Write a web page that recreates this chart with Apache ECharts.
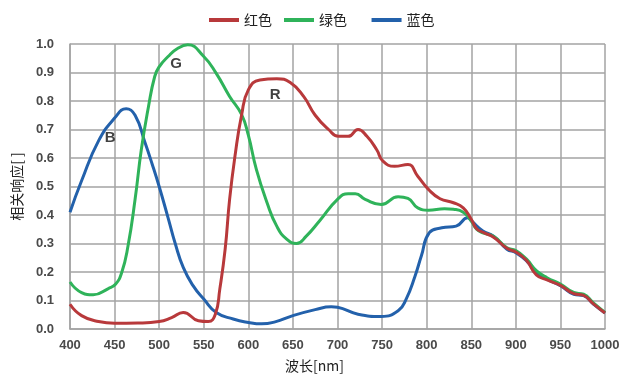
<!DOCTYPE html>
<html>
<head>
<meta charset="utf-8">
<script src="https://cdn.jsdelivr.net/npm/echarts@6/dist/echarts.min.js"></script>
<style>
html,body{margin:0;padding:0;background:#fff;}
#chart{width:640px;height:378px;}
</style>
</head>
<body>
<div id="chart"></div>
<script>
// Data (wavelength nm, relative response)
const seriesNames = ['红色', '绿色', '蓝色'];

const redNm  = [400,413,432,450,476,500,514,527,544,555,563,568,574,579,585,592.5,600,613,632,647,662,675,690,701,712,723,733,744,751,764,779,790,802,815,830,841,850,856,864,875,890,900,912,923,935,950,965,976,987,1000];
const redVal = [0.087,0.047,0.026,0.02,0.021,0.026,0.04,0.058,0.029,0.026,0.052,0.14,0.28,0.455,0.606,0.752,0.839,0.874,0.878,0.865,0.816,0.75,0.70,0.676,0.676,0.70,0.676,0.629,0.589,0.571,0.577,0.536,0.49,0.457,0.443,0.425,0.385,0.352,0.338,0.322,0.283,0.27,0.24,0.19,0.172,0.153,0.124,0.118,0.088,0.056];

const greenNm  = [400,413,426,443,451,458,465,473,480,488,495,500,510,521,532,550,564,579,592.5,600,609,621,632,643,654,665,680,700,712,720,731,749,768,779,790,802,820,830,841,850,856,864,875,890,900,912,923,935,950,965,976,987,1000];
const greenVal = [0.165,0.128,0.12,0.142,0.157,0.198,0.29,0.455,0.63,0.78,0.886,0.92,0.956,0.985,0.997,0.956,0.897,0.816,0.752,0.68,0.56,0.443,0.36,0.315,0.30,0.326,0.38,0.455,0.475,0.475,0.455,0.437,0.464,0.458,0.425,0.417,0.422,0.42,0.41,0.379,0.35,0.336,0.325,0.285,0.275,0.245,0.205,0.18,0.158,0.128,0.122,0.092,0.058];

const blueNm  = [400,413,432,450,463,473,484,492,500,510,518,527,538,550,564,583,600,615,630,650,675,693,700,723,749,768,777,787,794,803,817,833,846,850,863,875,890,900,912,923,935,950,965,976,987,1000];
const blueVal = [0.41,0.52,0.66,0.74,0.773,0.75,0.655,0.58,0.50,0.39,0.30,0.216,0.152,0.105,0.058,0.035,0.023,0.018,0.025,0.047,0.068,0.078,0.076,0.052,0.044,0.064,0.105,0.186,0.256,0.338,0.355,0.361,0.39,0.38,0.344,0.326,0.28,0.268,0.239,0.198,0.175,0.152,0.122,0.117,0.087,0.056];

// Curve annotations
const annoText = ['B', 'G', 'R'];
const annoNm   = [445, 519, 630];
const annoVal  = [0.671, 0.93, 0.822];

const xTicksMin = 400, xTicksMax = 1000, xStep = 50;
const yTicksMin = 0, yTicksMax = 1.0, yStep = 0.1;

const colors = ['#b8393b', '#2fb35a', '#2361ab'];

function zip(a, b) { return a.map((v, i) => [v, b[i]]); }

const chart = echarts.init(document.getElementById('chart'), null, {renderer: 'canvas'});

const lineData = [zip(redNm, redVal), zip(greenNm, greenVal), zip(blueNm, blueVal)];

const series = seriesNames.map((n, i) => ({
  name: n,
  type: 'line',
  data: lineData[i],
  smooth: 0.5,
  symbol: 'none',
  lineStyle: {width: 3, color: colors[i]},
  itemStyle: {color: colors[i]},
  z: 3 - i + 2
}));

series.push({
  name: 'anno',
  type: 'scatter',
  data: annoText.map((t, i) => ({value: [annoNm[i], annoVal[i]], name: t})),
  symbolSize: 1,
  itemStyle: {color: 'rgba(0,0,0,0)'},
  label: {
    show: true,
    position: 'inside',
    formatter: p => p.name,
    color: '#111',
    fontFamily: 'Liberation Sans, Arial, sans-serif',
    fontWeight: 'bold',
    fontSize: 15
  },
  silent: true,
  z: 10
});

const gridColor = '#a3a3a3';
const labelFont = {color: '#4a4a4a', fontFamily: 'Liberation Sans, Arial, sans-serif', fontWeight: 'bold', fontSize: 13};

chart.setOption({
  animation: false,
  backgroundColor: '#fff',
  color: colors,
  legend: {
    data: seriesNames,
    top: 8,
    left: 204,
    icon: 'rect',
    itemWidth: 30,
    itemHeight: 4,
    itemGap: 12,
    formatter: name => name === '绿色' ? name + '    ' : name,
    textStyle: {color: '#222', fontSize: 14, fontFamily: 'Noto Sans CJK SC, sans-serif'}
  },
  grid: {left: 70, right: 35, top: 44, bottom: 48, containLabel: false},
  xAxis: {
    type: 'value',
    min: xTicksMin, max: xTicksMax, interval: xStep,
    name: '波长[nm]',
    nameLocation: 'middle',
    nameGap: 30,
    nameTextStyle: {color: '#222', fontSize: 14, fontFamily: 'Noto Sans CJK SC, sans-serif', padding: [0, 46, 0, 0]},
    axisLine: {show: true, lineStyle: {color: gridColor, width: 1.5}},
    axisTick: {show: false},
    axisLabel: Object.assign({margin: 10, formatter: v => String(v)}, labelFont),
    splitLine: {show: true, lineStyle: {color: gridColor, width: 1.5}}
  },
  yAxis: {
    type: 'value',
    min: yTicksMin, max: yTicksMax, interval: yStep,
    name: '相关响应[ ]',
    nameLocation: 'middle',
    nameGap: 46,
    nameRotate: 90,
    nameTextStyle: {color: '#222', fontSize: 14, fontFamily: 'Noto Sans CJK SC, sans-serif'},
    axisLine: {show: true, lineStyle: {color: gridColor, width: 1.5}},
    axisTick: {show: false},
    axisLabel: Object.assign({margin: 16, formatter: v => v.toFixed(1)}, labelFont),
    splitLine: {show: true, lineStyle: {color: gridColor, width: 1.5}}
  },
  series: series
});
</script>
</body>
</html>
